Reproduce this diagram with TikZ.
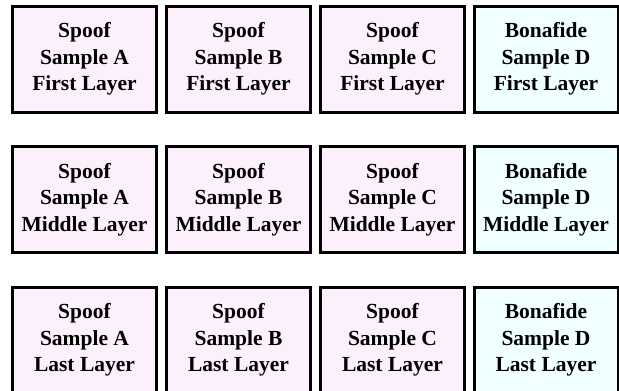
\documentclass[tikz,border=0pt]{standalone}
\usepackage{fontspec}
\setmainfont{Liberation Serif}
\definecolor{spoofpink}{RGB}{253,240,253}
\definecolor{bonacyan}{RGB}{240,255,255}
\begin{document}
\begin{tikzpicture}[x=1pt,y=-1pt,
  cell/.style={draw=black,line width=3pt,minimum width=144pt,minimum height=106pt,
    inner sep=0pt,align=center,font=\fontsize{21.5}{26.5}\selectfont\bfseries},
  spoof/.style={cell,fill=spoofpink},
  bona/.style={cell,fill=bonacyan}]
\useasboundingbox (0,0) rectangle (619,391);
\foreach \r/\yy/\lay in {1/59/First,2/199.5/Middle,3/340/Last}{
  \node[spoof] (a\r) at (84.5,\yy) {Spoof\\Sample A\\\lay{} Layer};
  \node[spoof] (b\r) at (238.5,\yy) {Spoof\\Sample B\\\lay{} Layer};
  \node[spoof] (c\r) at (392.5,\yy) {Spoof\\Sample C\\\lay{} Layer};
  \node[bona] (d\r) at (546,\yy) {Bonafide\\Sample D\\\lay{} Layer};
}
\end{tikzpicture}
\end{document}
